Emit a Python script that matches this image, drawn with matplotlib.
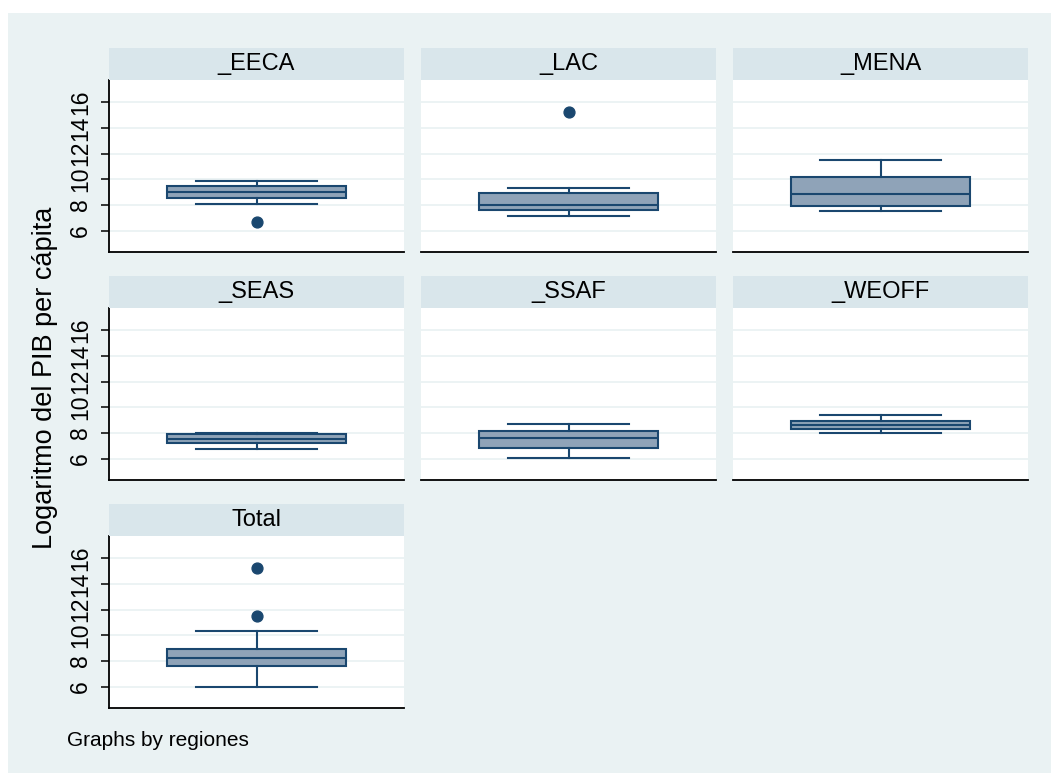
import matplotlib
matplotlib.use("Agg")
import matplotlib.pyplot as plt
from matplotlib.patches import Rectangle

plt.rcParams['font.family'] = ['Liberation Sans', 'DejaVu Sans']

# ---- data ----
regions = ["_EECA", "_LAC", "_MENA", "_SEAS", "_SSAF", "_WEOFF", "Total"]
lower_whisker = [8.11, 7.13, 7.52, 6.78, 6.08, 8.03, 6.00]
q1 = [8.58, 7.62, 7.93, 7.25, 6.84, 8.30, 7.62]
median = [9.05, 8.01, 8.87, 7.54, 7.64, 8.66, 8.24]
q3 = [9.52, 8.97, 10.20, 7.93, 8.14, 8.97, 8.92]
upper_whisker = [9.88, 9.34, 11.47, 7.98, 8.69, 9.39, 10.35]
outliers = [[6.68], [15.25], [], [], [], [], [15.27, 11.50]]
yticks = [6, 8, 10, 12, 14, 16]
ylabel = "Logaritmo del PIB per cápita"
note = "Graphs by regiones"

# ---- style ----
BG = "#EAF2F3"
STRIP = "#D9E6EB"
NAVY = "#1A476F"
BOXFILL = "#8FA3B8"

W, H = 1051, 773
fig = plt.figure(figsize=(W / 100, H / 100), dpi=100)
fig.patch.set_facecolor("white")
fig.patches.append(Rectangle((8 / W, 0), 1 - 8 / W, 1 - 13 / H,
                             transform=fig.transFigure, facecolor=BG,
                             edgecolor="none", zorder=-10))

col_left = [109, 421, 733]
pw = 295
row_top = [80, 308, 536]
ph = 172
sh = 32

for i, name in enumerate(regions):
    r, c = divmod(i, 3)
    x0 = col_left[c]
    y0 = row_top[r]
    ax = fig.add_axes([x0 / W, 1 - (y0 + ph) / H, pw / W, ph / H])
    ax.set_facecolor("white")
    st = dict(whislo=lower_whisker[i], q1=q1[i], med=median[i], q3=q3[i],
              whishi=upper_whisker[i], fliers=outliers[i])
    ax.bxp([st], positions=[0.5], widths=[0.61], capwidths=[0.41],
           patch_artist=True, manage_ticks=False,
           boxprops=dict(facecolor=BOXFILL, edgecolor=NAVY, linewidth=1.5),
           medianprops=dict(color=NAVY, linewidth=1.5),
           whiskerprops=dict(color=NAVY, linewidth=1.5),
           capprops=dict(color=NAVY, linewidth=1.5),
           flierprops=dict(marker="o", markerfacecolor=NAVY,
                           markeredgecolor=NAVY, markersize=7.8))
    ax.set_xlim(0, 1)
    ax.set_ylim(4.34, 17.74)
    ax.set_xticks([])
    ax.set_yticks(yticks)
    ax.grid(axis="y", color=BG, linewidth=1.3)
    ax.set_axisbelow(True)
    for s in ["top", "right"]:
        ax.spines[s].set_visible(False)
    ax.spines["bottom"].set_color("black")
    ax.spines["bottom"].set_linewidth(1.3)
    if c == 0:
        ax.spines["left"].set_color("black")
        ax.spines["left"].set_linewidth(1.3)
        ax.set_yticklabels([str(t) for t in yticks], rotation=90,
                           va="center", fontsize=16.5)
        ax.tick_params(axis="y", length=6, width=1.1, pad=6)
    else:
        ax.spines["left"].set_visible(False)
        ax.tick_params(axis="y", length=0, labelleft=False)
    # strip
    sax = fig.add_axes([x0 / W, 1 - y0 / H, pw / W, sh / H])
    sax.set_facecolor(STRIP)
    sax.set_xticks([])
    sax.set_yticks([])
    for s in sax.spines.values():
        s.set_visible(False)
    sax.text(0.5, 0.5, name, ha="center", va="center", fontsize=17,
             transform=sax.transAxes)

fig.text(45 / W, 1 - 378 / H, ylabel, rotation=90, ha="center",
         va="center", fontsize=19.5)
fig.text(67 / W, 1 - 740 / H, note, ha="left", va="center", fontsize=15)

fig.savefig("out.png", dpi=100)
